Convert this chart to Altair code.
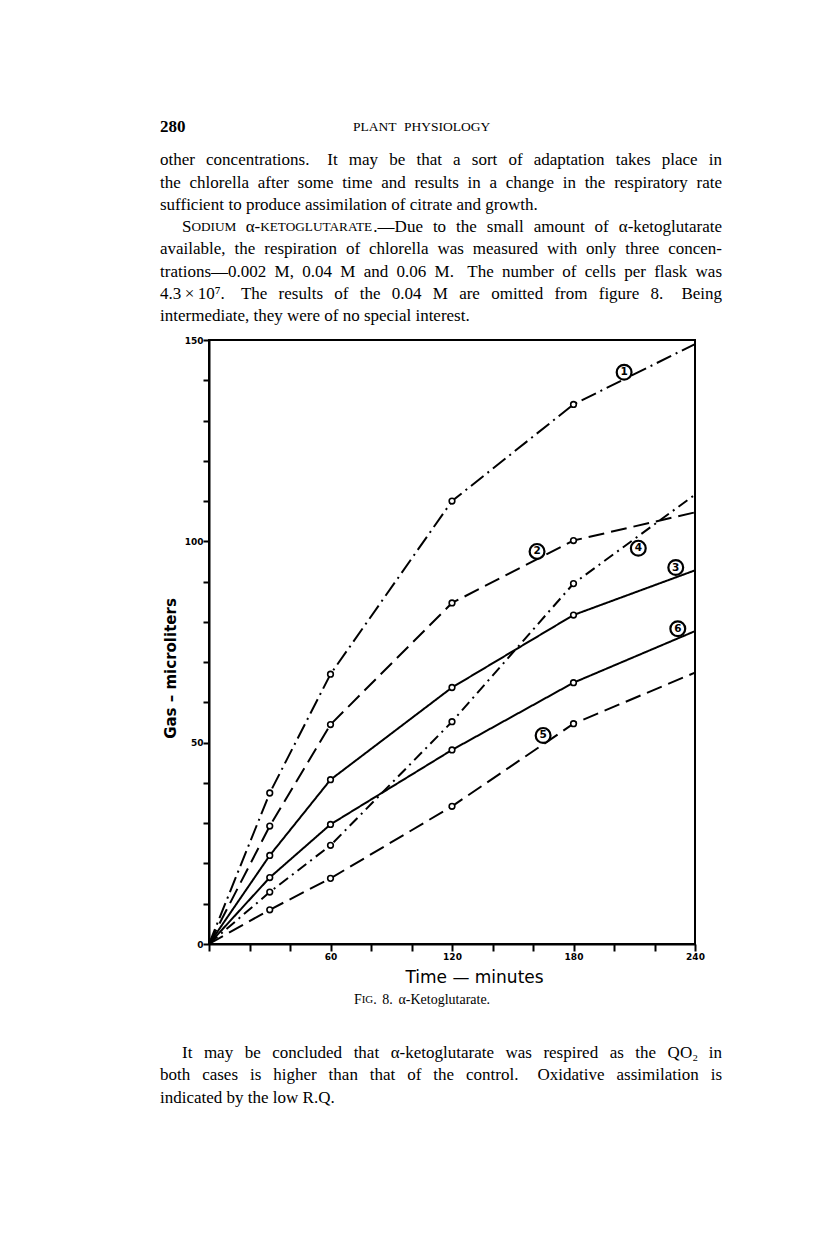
import re
import altair as alt
import pandas as pd

# ---------------- data ----------------
times = [0, 30, 60, 120, 180, 240]
curve_1 = [0, 37.5, 67.0, 110.0, 134.0, 149.0]
curve_2 = [0, 29.3, 54.5, 84.7, 100.2, 107.2]
curve_3 = [0, 22.0, 40.8, 63.7, 81.7, 92.8]
curve_4 = [0, 12.9, 24.5, 55.2, 89.5, 111.6]
curve_5 = [0, 8.5, 16.3, 34.2, 54.7, 67.4]
curve_6 = [0, 16.5, 29.7, 48.2, 64.9, 77.7]
curve_names = ["1", "2", "3", "4", "5", "6"]
label_time = [205.0, 162.0, 230.5, 212.0, 165.0, 231.5]
label_gas = [142.0, 97.5, 93.5, 98.3, 51.8, 78.3]
x_ticks = list(range(0, 241, 20))
y_ticks = list(range(0, 151, 10))

header_number = "280"
header_title = "PLANT PHYSIOLOGY"
top_lines = [
    "other concentrations.  It may be that a sort of adaptation takes place in",
    "the chlorella after some time and results in a change in the respiratory rate",
    "sufficient to produce assimilation of citrate and growth.",
    "S{ODIUM} α-{KETOGLUTARATE}.—Due to the small amount of α-ketoglutarate",
    "available, the respiration of chlorella was measured with only three concen-",
    "trations—0.002 M, 0.04 M and 0.06 M.  The number of cells per flask was",
    "4.3\u2009×\u200910⁷.  The results of the 0.04 M are omitted from figure 8.  Being",
    "intermediate, they were of no special interest.",
]
caption = "F{IG}. 8.  α-Ketoglutarate."
bottom_lines = [
    "It may be concluded that α-ketoglutarate was respired as the QO₂ in",
    "both cases is higher than that of the control.  Oxidative assimilation is",
    "indicated by the low R.Q.",
]

# ---------------- build tables ----------------
curves = [curve_1, curve_2, curve_3, curve_4, curve_5, curve_6]
rows = []
for name, vals in zip(curve_names, curves):
    for t, v in zip(times, vals):
        rows.append({"curve": name, "time": t, "gas": v})
df = pd.DataFrame(rows)
labels = pd.DataFrame({"curve": curve_names, "time": label_time, "gas": label_gas})

dash_styles = [[16, 5, 2, 5], [16, 7], [1, 0], [11, 5, 2, 5], [16, 7], [1, 0]]

# Times / Liberation Serif advance widths (1/1000 em)
TW = dict(zip("abcdefghijklmnopqrstuvwxyz",
              [444, 500, 444, 500, 444, 333, 500, 500, 278, 278, 500, 278, 778,
               500, 500, 500, 500, 333, 389, 278, 500, 500, 722, 500, 500, 444]))
TW.update(dict(zip("ABCDEFGHIJKLMNOPQRSTUVWXYZ",
                   [722, 667, 667, 722, 611, 556, 722, 722, 333, 389, 722, 611, 889,
                    722, 722, 556, 722, 667, 556, 611, 722, 722, 944, 722, 722, 611])))
TW.update({c: 500 for c in "0123456789"})
TW.update({" ": 250, ".": 250, ",": 250, "-": 333, "—": 1000, ":": 278, ";": 278,
           "×": 564, "α": 520, "⁷": 300, "₂": 300, "\u2009": 167})


def tw(s, fs):
    w = sum(TW.get(c, 500) for c in s) / 1000.0 * fs
    if len(s) > 3 and s.isupper():
        w *= 0.985   # kerning of capital pairs
    return w


OX, OY = 209, 340          # page position of the plot origin
COL_L, COL_W = 160, 562    # text column
BODY_FS = 17
text_recs = []


def layout(line, y_page, indent=0, justify=True, fs=BODY_FS, center=None, space=0.25):
    words = [w for w in line.split(" ") if w]
    segs_all = []
    for w in words:
        segs = []
        for part in re.split(r"(\{[^}]*\})", w):
            if not part:
                continue
            if part.startswith("{"):
                segs.append((part[1:-1], fs * 0.78))
            else:
                segs.append((part, fs))
        segs_all.append(segs)
    widths = [sum(tw(t, s) for t, s in segs) for segs in segs_all]
    weights = [1.6 if words[i].endswith(".") else 1.0 for i in range(len(words) - 1)]
    if justify and len(words) > 1:
        unit = (COL_W - indent - sum(widths)) / sum(weights)
    else:
        unit = fs * space
    if center is not None:
        total = sum(widths) + unit * sum(weights)
        x = center - total / 2
    else:
        x = COL_L + indent
    for i, segs in enumerate(segs_all):
        for t, s in segs:
            text_recs.append({"x": x - OX, "y": y_page - OY, "text": t, "fs": s})
            x += tw(t, s)
        if i < len(words) - 1:
            x += unit * weights[i]


for i, ln in enumerate(top_lines):
    layout(ln, 160.2 + i * 22.3, indent=22 if i == 3 else 0, justify=i not in (2, 7))
for i, ln in enumerate(bottom_lines):
    layout(ln, 1053 + i * 22.3, indent=22 if i == 0 else 0, justify=i != 2)
layout(caption, 1000, justify=False, fs=14, center=422)
layout(header_title, 127, justify=False, fs=13.5, center=421, space=0.6)
text_df = pd.DataFrame(text_recs)
head_df = pd.DataFrame([{"x": COL_L - OX, "y": 127 - OY, "text": header_number}])

# ---------------- chart ----------------
x_enc = alt.X(
    "time:Q",
    scale=alt.Scale(domain=[0, 240], nice=False),
    axis=alt.Axis(
        values=x_ticks,
        labelExpr="datum.value % 60 == 0 && datum.value > 0 ? datum.label : ''",
        title="Time — minutes", grid=False, tickSize=7, tickWidth=2, domainWidth=2,
        domainColor="black", tickColor="black", labelColor="black",
        labelFont="DejaVu Sans", labelFontWeight="bold", labelFontSize=9,
        labelPadding=1, labelFlush=False,
        titleFont="DejaVu Sans", titleFontSize=17, titleFontWeight="normal",
        titleColor="black", titleX=265, titleY=33, titleAlign="center",
        titleBaseline="middle",
    ),
)
y_enc = alt.Y(
    "gas:Q",
    scale=alt.Scale(domain=[0, 150], nice=False),
    axis=alt.Axis(
        values=y_ticks,
        labelExpr="datum.value % 50 == 0 ? datum.label : ''",
        title="Gas – microliters", grid=False, tickSize=6, tickWidth=2, domainWidth=2,
        domainColor="black", tickColor="black", labelColor="black",
        labelFont="DejaVu Sans", labelFontWeight="bold", labelFontSize=9,
        labelPadding=0, labelFlush=False,
        titleFont="DejaVu Sans", titleFontSize=15, titleFontWeight="bold",
        titleColor="black", titleAngle=270, titleX=-39, titleY=328,
        titleAlign="center", titleBaseline="middle",
    ),
)

base = alt.Chart(df)
lines = base.mark_line(color="black", strokeWidth=2).encode(
    x=x_enc, y=y_enc,
    strokeDash=alt.StrokeDash("curve:N", scale=alt.Scale(domain=curve_names, range=dash_styles),
                              legend=None),
)
points = base.transform_filter("datum.time > 0 && datum.time < 240").mark_point(
    shape="circle", filled=True, fill="white", stroke="black", strokeWidth=1.6,
    size=32, opacity=1,
).encode(x="time:Q", y="gas:Q")
lab_circ = alt.Chart(labels).mark_point(
    shape="circle", filled=True, fill="white", stroke="black", strokeWidth=2.2,
    size=220, opacity=1,
).encode(x="time:Q", y="gas:Q")
lab_txt = alt.Chart(labels).mark_text(
    font="DejaVu Sans", fontWeight="bold", fontSize=10.5, color="black",
).encode(x="time:Q", y="gas:Q", text="curve:N")

plot = alt.layer(lines, points, lab_circ, lab_txt)

body = alt.Chart(text_df).mark_text(
    align="left", baseline="middle", font="Liberation Serif", color="black",
).encode(
    x=alt.X("x:Q", scale=None, axis=None),
    y=alt.Y("y:Q", scale=None, axis=None),
    text="text:N",
    size=alt.Size("fs:Q", scale=None, legend=None),
)
head = alt.Chart(head_df).mark_text(
    align="left", baseline="middle", font="Liberation Serif", fontSize=17,
    fontWeight="bold", color="black",
).encode(
    x=alt.X("x:Q", scale=None, axis=None),
    y=alt.Y("y:Q", scale=None, axis=None),
    text="text:N",
)

chart = alt.layer(plot, body, head).resolve_scale(
    x="independent", y="independent"
).properties(
    width=486, height=604,
    padding={"left": OX - 8, "top": OY - 8, "right": 100, "bottom": 280},
    autosize=alt.AutoSizeParams(type="none"),
    background="white",
).configure_view(stroke="black", strokeWidth=2)

chart.save("out.html", embed_options={"renderer": "svg", "actions": False})
